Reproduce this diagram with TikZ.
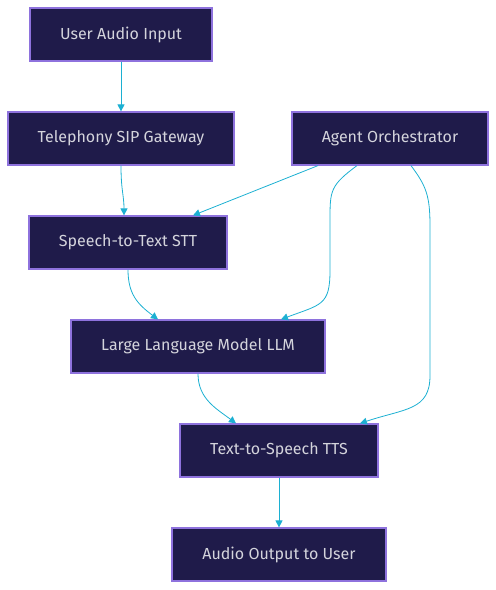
\documentclass[tikz,border=0pt]{standalone}
\usepackage{fontspec}
\setmainfont{Fira Sans}
\usetikzlibrary{arrows.meta,positioning,calc}
\definecolor{boxfill}{HTML}{1F1B4A}
\definecolor{boxline}{HTML}{8E72DD}
\definecolor{boxtext}{HTML}{D4D4DC}
\definecolor{flowcol}{HTML}{1CB0D2}
\tikzset{%
  every stage/.style={rectangle,draw=boxline,fill=boxfill,line width=1.2pt,
    text=boxtext,minimum height=53pt,inner sep=0pt,
    font=\fontsize{16}{19}\selectfont},
}

\begin{document}
\begin{tikzpicture}[
            x=1pt,y=-1pt,
            flow/.style={
              draw=flowcol,
              line width=0.8pt,
              -{Triangle[length=7pt,width=7pt]}
              },
            ]
            \useasboundingbox (0,0) rectangle (496,590);
            % pipeline stages
            \node[every stage,minimum width=182pt] (input) at (121,34.5) {User Audio Input};
            \node[every stage,minimum width=226pt] (sip) at (121,138.5) {Telephony SIP Gateway};
            \node[every stage,minimum width=196pt] (orch) at (390,138.5) {Agent Orchestrator};
            \node[every stage,minimum width=198pt] (stt) at (128,242.5) {Speech-to-Text STT};
            \node[every stage,minimum width=254pt] (llm) at (198,346.5) {Large Language Model LLM};
            \node[every stage,minimum width=198pt] (tts) at (279,450.5) {Text-to-Speech TTS};
            \node[every stage,minimum width=214pt] (output) at (279,554.5) {Audio Output to User};

            % main chain
            \draw[flow] (input) -- (sip);
            \draw[flow] (sip.south) .. controls +(0,25) and +(0,-20) .. ([xshift=-4pt]stt.north);
            \draw[flow] (stt.south) .. controls +(0,25) and +(-20,-15) .. ([xshift=-40pt]llm.north);
            \draw[flow] (llm.south) .. controls +(0,25) and +(-20,-15) .. ([xshift=-43pt]tts.north);
            \draw[flow] (tts) -- (output);

            % orchestrator links
            \draw[flow] ([xshift=-72pt]orch.south) -- ([xshift=65pt]stt.north);
            \draw[flow] ([xshift=-33pt]orch.south) .. controls +(-27,20) and +(0,-30) .. ++(-27,55)
                -- ++(0,50) .. controls +(0,35) and +(40,-15) .. ([xshift=83pt]llm.north);
            \draw[flow] ([xshift=21pt]orch.south) .. controls +(15,20) and +(0,-30) .. ++(19,60)
                -- ++(0,150) .. controls +(0,35) and +(45,-15) .. ([xshift=81pt]tts.north);
        \end{tikzpicture}
\end{document}
